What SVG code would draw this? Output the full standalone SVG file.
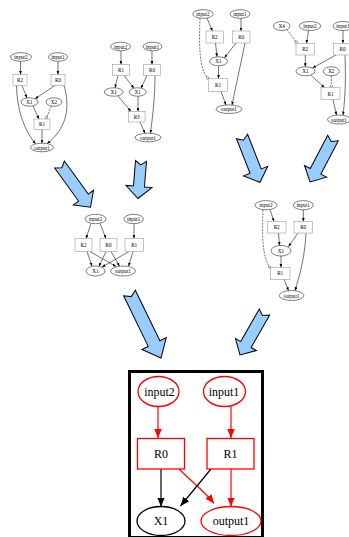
<svg xmlns="http://www.w3.org/2000/svg" width="349" height="537" viewBox="0 0 349 537">
<style>
.sn{fill:white;stroke:#000;stroke-width:0.5}
.sr{fill:white;stroke:#888;stroke-width:0.5}
.st{font-family:"Liberation Serif",serif;font-size:5.2px;fill:#000;text-anchor:middle;dominant-baseline:central}
.se{fill:none;stroke:#000;stroke-width:0.55;marker-end:url(#sa)}
.sd{fill:none;stroke:#000;stroke-width:0.55;stroke-dasharray:2,1.2;marker-end:url(#od)}
.ba{fill:#99ccff;stroke:#000;stroke-width:1}
.fn{fill:white;stroke-width:1.3}
.ft{font-family:"Liberation Serif",serif;font-size:12px;fill:#000;text-anchor:middle;dominant-baseline:central}
.fr{fill:none;stroke:#ff0000;stroke-width:1.2;marker-end:url(#ar)}
.fb{fill:none;stroke:#000;stroke-width:1.2;marker-end:url(#ab)}
</style>
<defs>
<marker id="sa" markerUnits="userSpaceOnUse" markerWidth="5" markerHeight="4" refX="3.5" refY="1.4" orient="auto"><path d="M0,0 L3.5,1.4 L0,2.8 z" fill="#000"/></marker>
<marker id="od" markerUnits="userSpaceOnUse" markerWidth="4" markerHeight="4" refX="3" refY="1.6" orient="auto"><circle cx="1.6" cy="1.6" r="1.3" fill="white" stroke="#000" stroke-width="0.4"/></marker>
<marker id="ar" markerUnits="userSpaceOnUse" markerWidth="11" markerHeight="9" refX="9" refY="3.8" orient="auto"><path d="M0,0 L9,3.8 L0,7.6 z" fill="#ff0000"/></marker>
<marker id="ab" markerUnits="userSpaceOnUse" markerWidth="11" markerHeight="9" refX="9" refY="3.8" orient="auto"><path d="M0,0 L9,3.8 L0,7.6 z" fill="#000"/></marker>
</defs>

<!-- Graph A -->
<g id="gA">
<g id="gA-connectors">
<path class="se" d="M20.5,61.3 L20.5,74.5"/>
<path class="se" d="M58,61.3 L58,74.5"/>
<path class="se" d="M22,85.5 L27,97.9"/>
<path class="se" d="M55,85.5 L35,98.8"/>
<path class="se" d="M33,106 L39,119"/>
<path class="sd" d="M51.5,106 L46,119"/>
<path class="se" d="M16.5,85.5 C17,110 24,130 35.5,143.7"/>
<path class="se" d="M64,85.5 C70,105 68,128 47,143.6"/>
<path class="se" d="M42,129.5 L42,143.2"/>
</g>
<g id="gA-input2"><ellipse class="sn" cx="21" cy="57" rx="10.5" ry="4.3"/><text class="st" x="21" y="57">input2</text></g>
<g id="gA-input1"><ellipse class="sn" cx="58" cy="57" rx="9.5" ry="4.3"/><text class="st" x="58" y="57">input1</text></g>
<g id="gA-R2"><rect class="sr" x="13" y="74.5" width="14" height="11"/><text class="st" x="20" y="80">R2</text></g>
<g id="gA-R0"><rect class="sr" x="51" y="74.5" width="14" height="11"/><text class="st" x="58" y="80">R0</text></g>
<g id="gA-X1"><ellipse class="sn" cx="29.5" cy="102" rx="8.5" ry="4.2"/><text class="st" x="29.5" y="102">X1</text></g>
<g id="gA-X2"><ellipse class="sn" cx="54" cy="102" rx="8" ry="4.2"/><text class="st" x="54" y="102">X2</text></g>
<g id="gA-R1"><rect class="sr" x="34" y="119" width="16" height="10.5"/><text class="st" x="42" y="124.3">R1</text></g>
<g id="gA-output1"><ellipse class="sn" cx="42" cy="147.5" rx="11.5" ry="4.3"/><text class="st" x="42" y="147.5">output1</text></g>
</g>

<!-- Graph B -->
<g id="gB">
<g id="gB-connectors">
<path class="se" d="M121,50.8 L121,64.5"/>
<path class="se" d="M152,50.8 L152,64.5"/>
<path class="se" d="M118,75.5 L115,87.8"/>
<path class="se" d="M124,75.5 L134,88.3"/>
<path class="se" d="M147,75.5 L141,88.2"/>
<path class="se" d="M118,96 L131,111.5"/>
<path class="se" d="M138,96.2 L138,111.5"/>
<path class="se" d="M140,122 L145,133.3"/>
<path class="se" d="M155,75.5 C155,100 152,120 150.5,133.3"/>
</g>
<g id="gB-input2"><ellipse class="sn" cx="120.7" cy="46.5" rx="10" ry="4.3"/><text class="st" x="120.7" y="46.5">input2</text></g>
<g id="gB-input1"><ellipse class="sn" cx="152.5" cy="46.5" rx="9.5" ry="4.3"/><text class="st" x="152.5" y="46.5">input1</text></g>
<g id="gB-R1"><rect class="sr" x="112.5" y="64.5" width="17" height="11"/><text class="st" x="121" y="70">R1</text></g>
<g id="gB-R0"><rect class="sr" x="143.5" y="64.5" width="17" height="11"/><text class="st" x="152" y="70">R0</text></g>
<g id="gB-X1a"><ellipse class="sn" cx="113.7" cy="92" rx="9.5" ry="4.2"/><text class="st" x="113.7" y="92">X1</text></g>
<g id="gB-X1b"><ellipse class="sn" cx="137.7" cy="92" rx="8.5" ry="4.2"/><text class="st" x="137.7" y="92">X1</text></g>
<g id="gB-R3"><rect class="sr" x="128.5" y="111.5" width="16.5" height="10.5"/><text class="st" x="136.7" y="116.7">R3</text></g>
<g id="gB-output1"><ellipse class="sn" cx="148" cy="137.5" rx="13" ry="4.3"/><text class="st" x="148" y="137.5">output1</text></g>
</g>

<!-- Graph C -->
<g id="gC">
<g id="gC-connectors">
<path class="se" d="M207,18.2 L212.5,31"/>
<path class="se" d="M241,18.3 L241,31"/>
<path class="se" d="M215.5,43 L217,56.8"/>
<path class="se" d="M236,43 L224.5,57.8"/>
<path class="se" d="M218.5,65.8 L218.5,78.5"/>
<path class="sd" d="M200,18.2 C199,45 199,70 208.5,79"/>
<path class="se" d="M221,91.5 L226,105"/>
<path class="se" d="M245,43 L232,105"/>
</g>
<g id="gC-input2"><ellipse class="sn" cx="203" cy="14" rx="10.3" ry="4.3"/><text class="st" x="203" y="14">input2</text></g>
<g id="gC-input1"><ellipse class="sn" cx="240" cy="14" rx="10" ry="4.3"/><text class="st" x="240" y="14">input1</text></g>
<g id="gC-R2"><rect class="sr" x="206" y="31" width="17.5" height="12"/><text class="st" x="214.7" y="37">R2</text></g>
<g id="gC-R0"><rect class="sr" x="232.5" y="31" width="17.5" height="12"/><text class="st" x="241.3" y="37">R0</text></g>
<g id="gC-X1"><ellipse class="sn" cx="218.5" cy="61.3" rx="9" ry="4.5"/><text class="st" x="218.5" y="61.3">X1</text></g>
<g id="gC-R1"><rect class="sr" x="208.5" y="78.5" width="19" height="13"/><text class="st" x="218" y="85">R1</text></g>
<g id="gC-output1"><ellipse class="sn" cx="229" cy="109.2" rx="13" ry="4.3"/><text class="st" x="229" y="109.2">output1</text></g>
</g>

<!-- Graph D -->
<g id="gD">
<g id="gD-connectors">
<path class="sd" d="M287,29.5 L297,43.3"/>
<path class="se" d="M308.5,30.5 L306.5,43.3"/>
<path class="se" d="M343,30.5 L343,43.3"/>
<path class="se" d="M305.3,55 L305.3,66.8"/>
<path class="se" d="M336,55 L312.5,68"/>
<path class="se" d="M311,75.5 L324.5,87.5"/>
<path class="sd" d="M331.3,75.8 L331.3,87.5"/>
<path class="se" d="M333,99.5 L336.5,115"/>
<path class="se" d="M345,55 C346,80 345,100 343,115"/>
</g>
<g id="gD-X4"><ellipse class="sn" cx="281.7" cy="26" rx="8.3" ry="4.5"/><text class="st" x="281.7" y="26">X4</text></g>
<g id="gD-input2"><ellipse class="sn" cx="310" cy="26" rx="10.8" ry="4.5"/><text class="st" x="310" y="26">input2</text></g>
<g id="gD-input1"><ellipse class="sn" cx="343" cy="26" rx="10" ry="4.5"/><text class="st" x="343" y="26">input1</text></g>
<g id="gD-R2"><rect class="sr" x="296" y="43.3" width="18.5" height="11.7"/><text class="st" x="305.2" y="49.2">R2</text></g>
<g id="gD-R0"><rect class="sr" x="333.3" y="43.3" width="18.5" height="11.7"/><text class="st" x="342.5" y="49.2">R0</text></g>
<g id="gD-X1"><ellipse class="sn" cx="305.5" cy="71.3" rx="9.5" ry="4.5"/><text class="st" x="305.5" y="71.3">X1</text></g>
<g id="gD-X2"><ellipse class="sn" cx="331.3" cy="71.3" rx="8" ry="4.5"/><text class="st" x="331.3" y="71.3">X2</text></g>
<g id="gD-R1"><rect class="sr" x="321" y="87.5" width="19" height="12"/><text class="st" x="330.5" y="93.5">R1</text></g>
<g id="gD-output1"><ellipse class="sn" cx="339" cy="119.5" rx="11.5" ry="4.5"/><text class="st" x="339" y="119.5">output1</text></g>
</g>

<!-- Graph E -->
<g id="gE">
<g id="gE-connectors">
<path class="se" d="M91,223.5 L86,238.5"/>
<path class="se" d="M100,223.5 L106,238.5"/>
<path class="se" d="M134,223.7 L134,238.5"/>
<path class="se" d="M87,251.5 L92,266.2"/>
<path class="se" d="M90,251.5 L116,266.5"/>
<path class="se" d="M106,251.5 L99,266.2"/>
<path class="se" d="M111,251.5 L119.5,266.2"/>
<path class="se" d="M129,251.5 L102,267"/>
<path class="se" d="M133,251.5 L128.5,266.3"/>
</g>
<g id="gE-input2"><ellipse class="sn" cx="95.5" cy="219" rx="10.5" ry="4.7"/><text class="st" x="95.5" y="219">input2</text></g>
<g id="gE-input1"><ellipse class="sn" cx="133.7" cy="219" rx="9.7" ry="4.7"/><text class="st" x="133.7" y="219">input1</text></g>
<g id="gE-R2"><rect class="sr" x="75" y="238.5" width="17" height="13"/><text class="st" x="83.5" y="245">R2</text></g>
<g id="gE-R0"><rect class="sr" x="100" y="238.5" width="17" height="13"/><text class="st" x="108.5" y="245">R0</text></g>
<g id="gE-R1"><rect class="sr" x="125" y="238.5" width="18.5" height="13"/><text class="st" x="134.2" y="245">R1</text></g>
<g id="gE-X1"><ellipse class="sn" cx="95.5" cy="271" rx="9.5" ry="5"/><text class="st" x="95.5" y="271">X1</text></g>
<g id="gE-output1"><ellipse class="sn" cx="123" cy="271" rx="12.5" ry="5"/><text class="st" x="123" y="271">output1</text></g>
</g>

<!-- Graph F -->
<g id="gF">
<g id="gF-connectors">
<path class="se" d="M270,209.6 L274,221.5"/>
<path class="se" d="M303.3,209.8 L303.3,221.5"/>
<path class="se" d="M278.5,233 L279.5,245.4"/>
<path class="se" d="M298,233 L288.5,246.6"/>
<path class="se" d="M281,256 L281,267.5"/>
<path class="sd" d="M263,209.8 C262,235 262,258 270.5,268"/>
<path class="se" d="M284,279.3 L288.5,290.6"/>
<path class="se" d="M306,233 C305,255 300,275 295,290.6"/>
</g>
<g id="gF-input2"><ellipse class="sn" cx="266" cy="205.2" rx="11" ry="4.6"/><text class="st" x="266" y="205.2">input2</text></g>
<g id="gF-input1"><ellipse class="sn" cx="303.3" cy="205.2" rx="10" ry="4.6"/><text class="st" x="303.3" y="205.2">input1</text></g>
<g id="gF-R2"><rect class="sr" x="267.5" y="221.5" width="18.5" height="11.5"/><text class="st" x="276.7" y="227.2">R2</text></g>
<g id="gF-R0"><rect class="sr" x="294" y="221.5" width="18.5" height="11.5"/><text class="st" x="303.2" y="227.2">R0</text></g>
<g id="gF-X1"><ellipse class="sn" cx="281" cy="250.7" rx="10" ry="5.3"/><text class="st" x="281" y="250.7">X1</text></g>
<g id="gF-R1"><rect class="sr" x="270.5" y="267.5" width="19.5" height="11.8"/><text class="st" x="280.2" y="273.4">R1</text></g>
<g id="gF-output1"><ellipse class="sn" cx="291.5" cy="295.5" rx="12.3" ry="5"/><text class="st" x="291.5" y="295.5">output1</text></g>
</g>

<!-- Block arrows -->
<g id="block-arrows">
<polygon class="ba" transform="translate(59.5,164.5) rotate(54.1)" points="0,-6 40.8,-6 40.8,-12.5 52.8,0 40.8,12.5 40.8,6 0,6 4,0"/>
<polygon class="ba" transform="translate(141,161) rotate(94.6)" points="0,-5.5 25.6,-5.5 25.6,-13 37.6,0 25.6,13 25.6,5.5 0,5.5 4,0"/>
<polygon class="ba" transform="translate(242,136.5) rotate(68.5)" points="0,-6 37.2,-6 37.2,-13 49.2,0 37.2,13 37.2,6 0,6 4,0"/>
<polygon class="ba" transform="translate(333,138) rotate(117.6)" points="0,-6 37.6,-6 37.6,-12.5 49.6,0 37.6,12.5 37.6,6 0,6 4,0"/>
<polygon class="ba" transform="translate(129.5,293) rotate(64.1)" points="0,-6.5 56.2,-6.5 56.2,-13.5 72.2,0 56.2,13.5 56.2,6.5 0,6.5 4,0"/>
<polygon class="ba" transform="translate(264.5,312) rotate(119.7)" points="0,-6 37.5,-6 37.5,-12 49.5,0 37.5,12 37.5,6 0,6 4,0"/>
</g>

<!-- Final graph -->
<g id="final">
<rect id="final-frame" x="129.5" y="371.5" width="133" height="166" fill="white" stroke="#000" stroke-width="3"/>
<g id="final-connectors">
<path class="fr" d="M158,407 L158,438"/>
<path class="fr" d="M231,406.5 L231,438"/>
<path class="fb" d="M161,469 L161,506.5"/>
<path class="fr" d="M179,469 C190,480 205,492 214,503.5"/>
<path class="fb" d="M211,469 L180.5,506"/>
<path class="fr" d="M231,469 L231,506.5"/>
</g>
<g id="final-input2"><ellipse class="fn" cx="158.5" cy="391.5" rx="20.5" ry="15" stroke="#ff0000"/><text class="ft" x="159.5" y="391.5">input2</text></g>
<g id="final-input1"><ellipse class="fn" cx="224.5" cy="391.5" rx="21" ry="15" stroke="#ff0000"/><text class="ft" x="224" y="391.5">input1</text></g>
<g id="final-R0"><rect class="fn" x="137.5" y="438.5" width="47" height="30.5" stroke="#ff0000"/><text class="ft" x="161" y="453.8">R0</text></g>
<g id="final-R1"><rect class="fn" x="207" y="438.5" width="47" height="30.5" stroke="#ff0000"/><text class="ft" x="230.5" y="453.8">R1</text></g>
<g id="final-X1"><ellipse class="fn" cx="161" cy="521" rx="24" ry="14.5" stroke="#000"/><text class="ft" x="161" y="521">X1</text></g>
<g id="final-output1"><ellipse class="fn" cx="231" cy="521" rx="30" ry="14.5" stroke="#ff0000"/><text class="ft" x="231" y="521">output1</text></g>
</g>
</svg>
